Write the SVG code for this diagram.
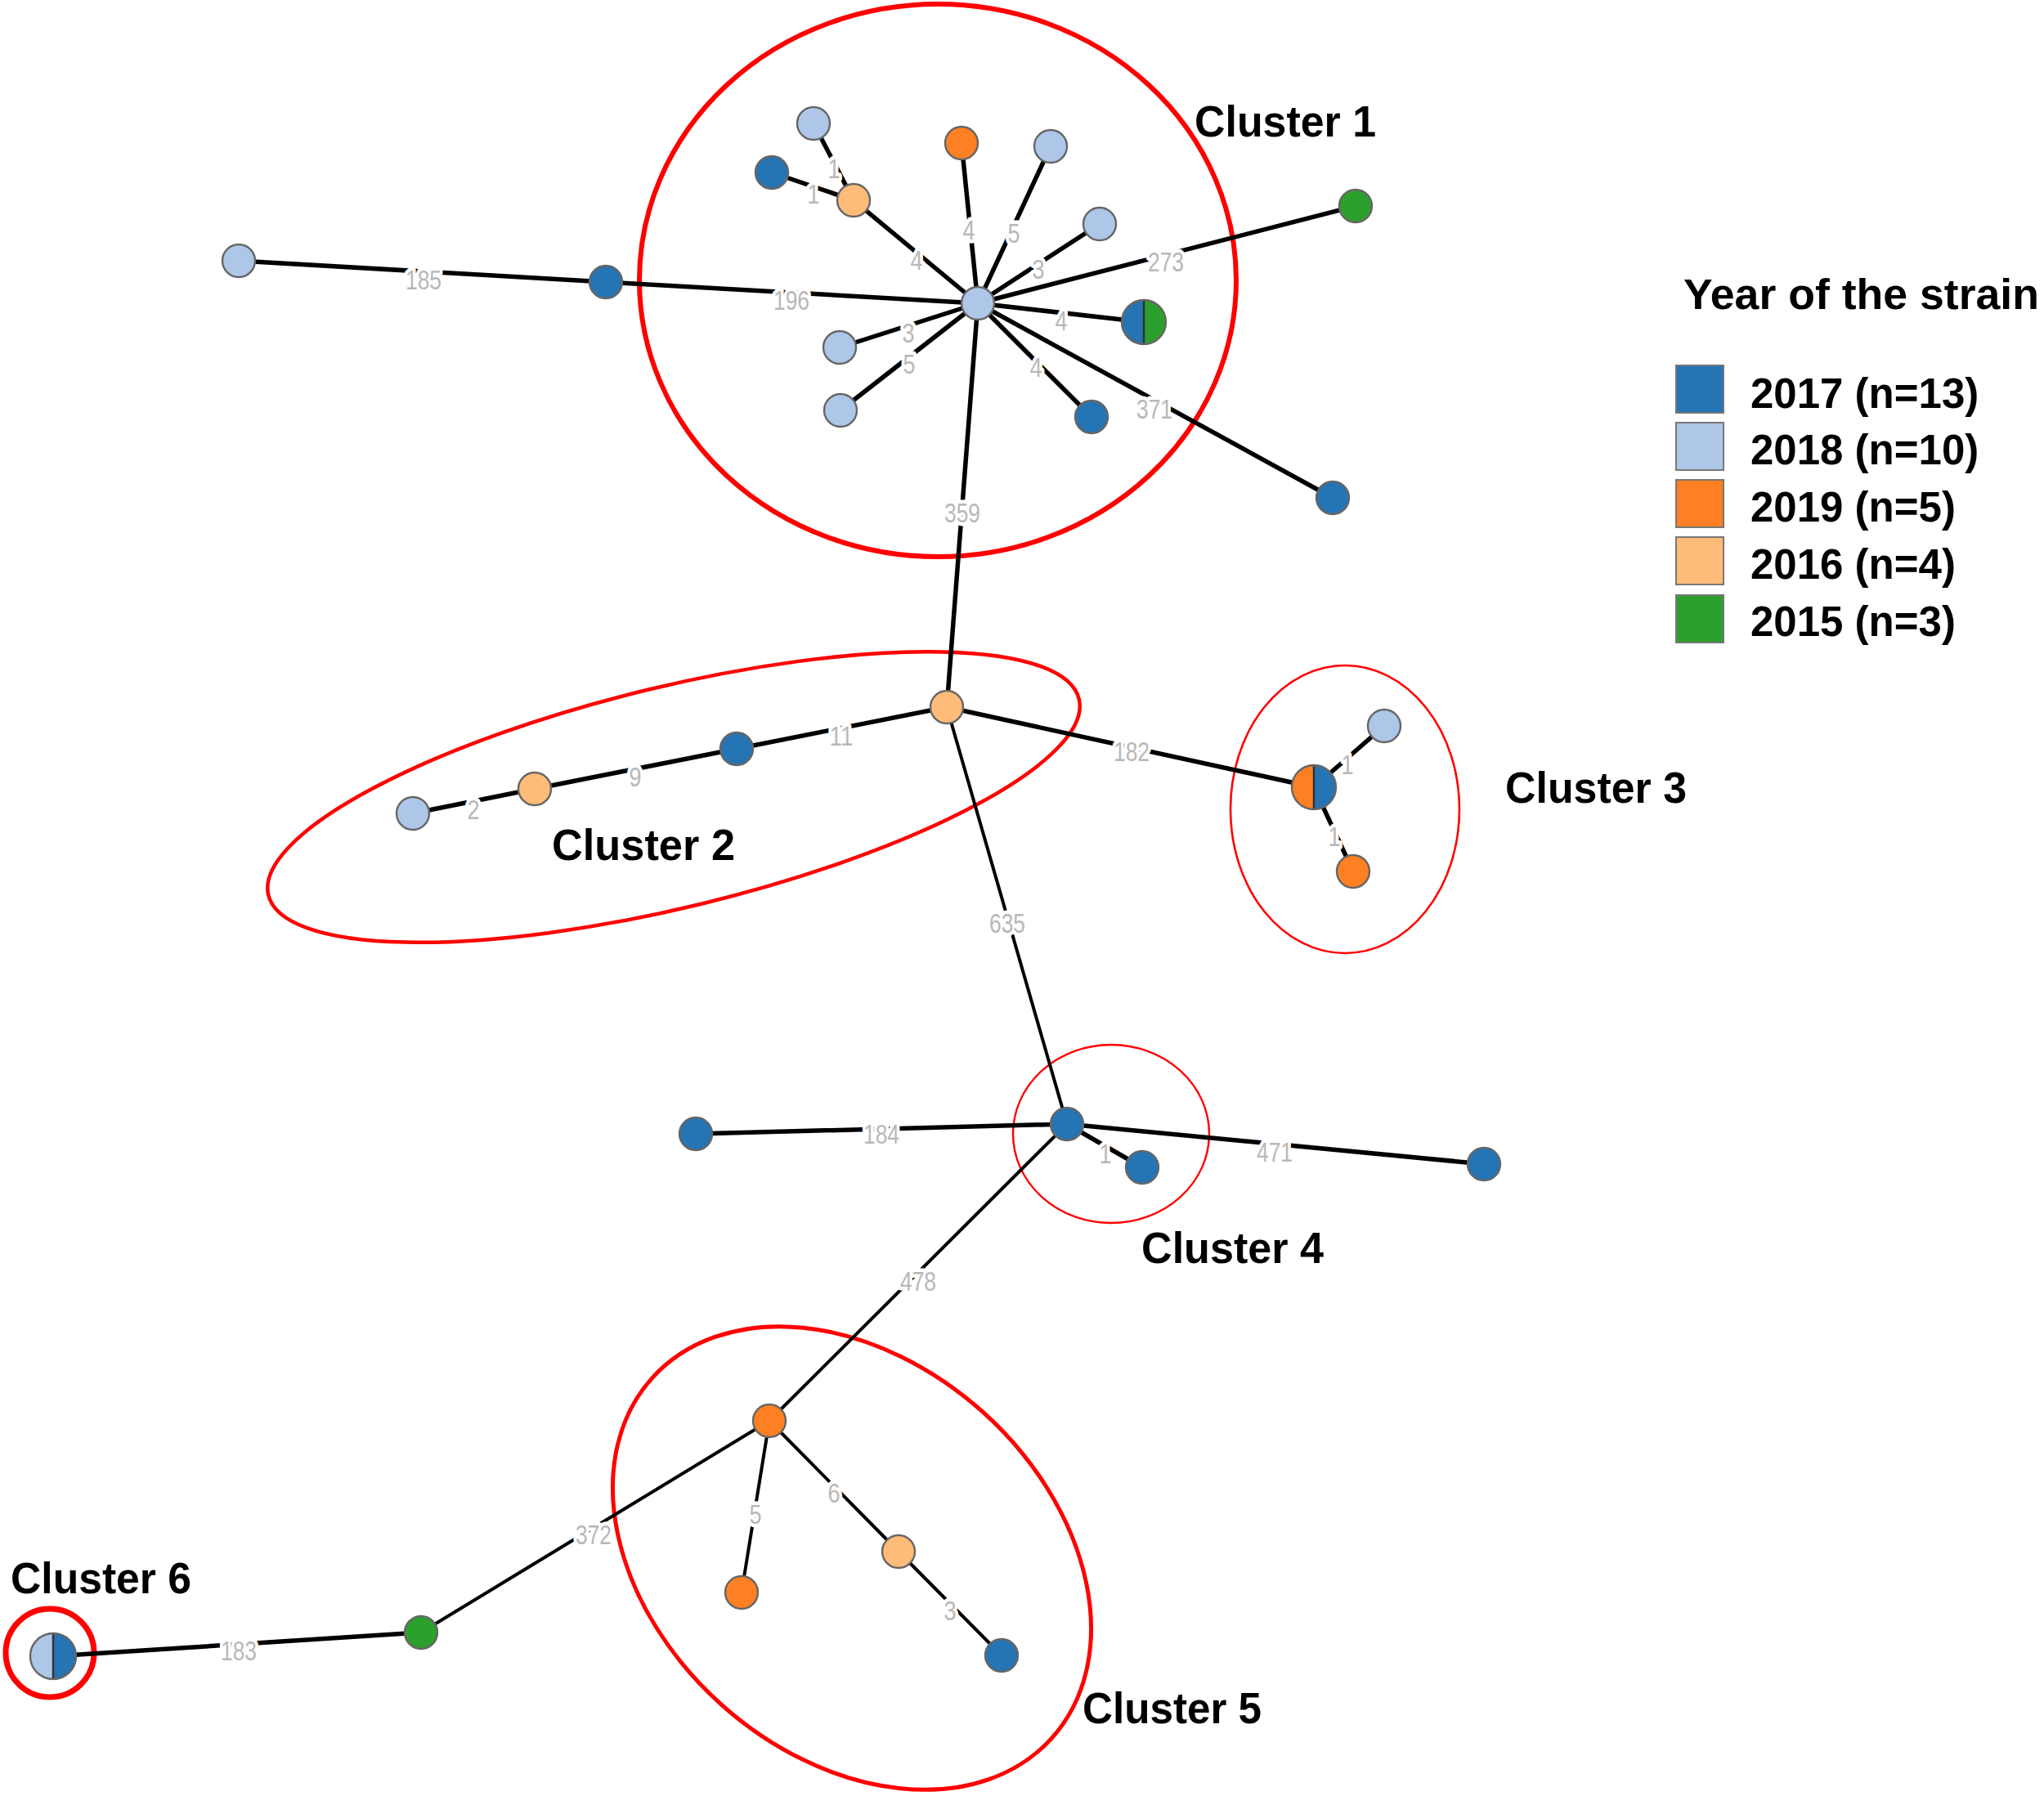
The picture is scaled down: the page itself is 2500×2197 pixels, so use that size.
<svg xmlns="http://www.w3.org/2000/svg" width="2500" height="2197" viewBox="0 0 2500 2197">
<style>
.e{stroke:#000;stroke-width:5.5;stroke-linecap:round;fill:none}
.e.t{stroke-width:4}
.l{font-family:"Liberation Sans",Arial,sans-serif;font-size:33px;fill:#b8b8b8;text-anchor:middle;stroke:#fff;stroke-width:9px;stroke-linejoin:round;paint-order:stroke}
.n{stroke:#666;stroke-width:2.4}
.y17{fill:#2574b4}.y18{fill:#aec7e8}.y19{fill:#ff7f23}.y16{fill:#ffbb78}.y15{fill:#2ca02c}
.cl{fill:none;stroke:#ff0000}
.ct{font-family:"Liberation Sans",Arial,sans-serif;font-weight:bold;font-size:53px;fill:#000}
.lg{font-family:"Liberation Sans",Arial,sans-serif;font-weight:bold;font-size:51px;fill:#000}
.sq{stroke:#777;stroke-width:2}
</style>
<rect width="2500" height="2197" fill="#fff"/>

<g id="cluster-outlines">
<ellipse class="cl" cx="1147" cy="343" rx="365" ry="338" stroke-width="6"/>
<ellipse class="cl" cx="824" cy="975" rx="510" ry="135" transform="rotate(-13.6 824 975)" stroke-width="4.5"/>
<ellipse class="cl" cx="1645" cy="990" rx="140" ry="176" stroke-width="2.6"/>
<ellipse class="cl" cx="1359" cy="1387" rx="120" ry="109" stroke-width="2.4"/>
<ellipse class="cl" cx="1042" cy="1906" rx="329" ry="240" transform="rotate(42 1042 1906)" stroke-width="5"/>
<circle class="cl" cx="61" cy="2022" r="54" stroke-width="7"/>
</g>

<g id="connectors">
<line class="e" x1="1196" y1="371" x2="1044" y2="245"/>
<line class="e" x1="1044" y1="245" x2="995" y2="151"/>
<line class="e" x1="1044" y1="245" x2="944" y2="211"/>
<line class="e" x1="1196" y1="371" x2="1176" y2="175"/>
<line class="e" x1="1196" y1="371" x2="1285" y2="179"/>
<line class="e" x1="1196" y1="371" x2="1345" y2="274"/>
<line class="e" x1="1196" y1="371" x2="1658" y2="252"/>
<line class="e" x1="1196" y1="371" x2="1399" y2="394"/>
<line class="e" x1="1196" y1="371" x2="1630" y2="609"/>
<line class="e" x1="1196" y1="371" x2="1335" y2="510"/>
<line class="e" x1="1196" y1="371" x2="1028" y2="502"/>
<line class="e" x1="1196" y1="371" x2="1027" y2="425"/>
<line class="e" x1="1196" y1="371" x2="741" y2="345"/>
<line class="e" x1="741" y1="345" x2="292" y2="319"/>
<line class="e" x1="1196" y1="371" x2="1158" y2="865"/>
<line class="e" x1="1158" y1="865" x2="901" y2="916"/>
<line class="e" x1="901" y1="916" x2="654" y2="965"/>
<line class="e" x1="654" y1="965" x2="505" y2="995"/>
<line class="e" x1="1158" y1="865" x2="1607" y2="963"/>
<line class="e" x1="1607" y1="963" x2="1693" y2="888"/>
<line class="e" x1="1607" y1="963" x2="1655" y2="1066"/>
<line class="e t" x1="1158" y1="865" x2="1305" y2="1375"/>
<line class="e" x1="1305" y1="1375" x2="851" y2="1387"/>
<line class="e" x1="1305" y1="1375" x2="1397" y2="1428"/>
<line class="e" x1="1305" y1="1375" x2="1815" y2="1424"/>
<line class="e t" x1="1305" y1="1375" x2="941" y2="1738"/>
<line class="e t" x1="941" y1="1738" x2="907" y2="1948"/>
<line class="e t" x1="941" y1="1738" x2="1099" y2="1898"/>
<line class="e t" x1="1099" y1="1898" x2="1225" y2="2025"/>
<line class="e t" x1="941" y1="1738" x2="515" y2="1997"/>
<line class="e" x1="515" y1="1997" x2="65" y2="2026"/>

<text class="l" x="518" y="354" textLength="44" lengthAdjust="spacingAndGlyphs">185</text>
<text class="l" x="968" y="379" textLength="44" lengthAdjust="spacingAndGlyphs">196</text>
<text class="l" x="1121" y="330" textLength="15" lengthAdjust="spacingAndGlyphs">4</text>
<text class="l" x="1185" y="293" textLength="15" lengthAdjust="spacingAndGlyphs">4</text>
<text class="l" x="1240" y="297" textLength="15" lengthAdjust="spacingAndGlyphs">5</text>
<text class="l" x="1270" y="341" textLength="15" lengthAdjust="spacingAndGlyphs">3</text>
<text class="l" x="1426" y="332" textLength="44" lengthAdjust="spacingAndGlyphs">273</text>
<text class="l" x="1298" y="404" textLength="15" lengthAdjust="spacingAndGlyphs">4</text>
<text class="l" x="1412" y="512" textLength="44" lengthAdjust="spacingAndGlyphs">371</text>
<text class="l" x="1267" y="461" textLength="15" lengthAdjust="spacingAndGlyphs">4</text>
<text class="l" x="1111" y="419" textLength="15" lengthAdjust="spacingAndGlyphs">3</text>
<text class="l" x="1112" y="457" textLength="15" lengthAdjust="spacingAndGlyphs">5</text>
<text class="l" x="1020" y="218" textLength="15" lengthAdjust="spacingAndGlyphs">1</text>
<text class="l" x="995" y="249" textLength="15" lengthAdjust="spacingAndGlyphs">1</text>
<text class="l" x="1177" y="639" textLength="44" lengthAdjust="spacingAndGlyphs">359</text>
<text class="l" x="1029" y="912" textLength="29" lengthAdjust="spacingAndGlyphs">11</text>
<text class="l" x="777" y="962" textLength="15" lengthAdjust="spacingAndGlyphs">9</text>
<text class="l" x="579" y="1002" textLength="15" lengthAdjust="spacingAndGlyphs">2</text>
<text class="l" x="1384" y="931" textLength="44" lengthAdjust="spacingAndGlyphs">182</text>
<text class="l" x="1648" y="947" textLength="15" lengthAdjust="spacingAndGlyphs">1</text>
<text class="l" x="1632" y="1035" textLength="15" lengthAdjust="spacingAndGlyphs">1</text>
<text class="l" x="1232" y="1141" textLength="44" lengthAdjust="spacingAndGlyphs">635</text>
<text class="l" x="1078" y="1399" textLength="44" lengthAdjust="spacingAndGlyphs">184</text>
<text class="l" x="1352" y="1423" textLength="15" lengthAdjust="spacingAndGlyphs">1</text>
<text class="l" x="1559" y="1421" textLength="44" lengthAdjust="spacingAndGlyphs">471</text>
<text class="l" x="1123" y="1579" textLength="44" lengthAdjust="spacingAndGlyphs">478</text>
<text class="l" x="924" y="1864" textLength="15" lengthAdjust="spacingAndGlyphs">5</text>
<text class="l" x="1020" y="1838" textLength="15" lengthAdjust="spacingAndGlyphs">6</text>
<text class="l" x="1162" y="1982" textLength="15" lengthAdjust="spacingAndGlyphs">3</text>
<text class="l" x="726" y="1889" textLength="44" lengthAdjust="spacingAndGlyphs">372</text>
<text class="l" x="292" y="2031" textLength="44" lengthAdjust="spacingAndGlyphs">183</text>
</g>

<g id="nodes">
<g id="c1-hub"><circle class="n y18" cx="1196" cy="371" r="20"/></g>
<g id="c1-peach"><circle class="n y16" cx="1044" cy="245" r="20"/></g>
<g id="c1-lb-top"><circle class="n y18" cx="995" cy="151" r="20"/></g>
<g id="c1-db-left"><circle class="n y17" cx="944" cy="211" r="20"/></g>
<g id="c1-orange"><circle class="n y19" cx="1176" cy="175" r="20"/></g>
<g id="c1-lb-2"><circle class="n y18" cx="1285" cy="179" r="20"/></g>
<g id="c1-lb-3"><circle class="n y18" cx="1345" cy="274" r="20"/></g>
<g id="green-273"><circle class="n y15" cx="1658" cy="252" r="20"/></g>
<g id="c1-split">
<path class="y17" d="M1399,367 A27,27 0 0 0 1399,421 Z"/>
<path class="y15" d="M1399,367 A27,27 0 0 1 1399,421 Z"/>
<line x1="1399" y1="367" x2="1399" y2="421" stroke="#333" stroke-width="2.5"/>
<circle cx="1399" cy="394" r="27" fill="none" stroke="#666" stroke-width="2.4"/>
</g>
<g id="db-371"><circle class="n y17" cx="1630" cy="609" r="20"/></g>
<g id="c1-db-4"><circle class="n y17" cx="1335" cy="510" r="20"/></g>
<g id="c1-lb-5"><circle class="n y18" cx="1028" cy="502" r="20"/></g>
<g id="c1-lb-6"><circle class="n y18" cx="1027" cy="425" r="20"/></g>
<g id="db-196"><circle class="n y17" cx="741" cy="345" r="20"/></g>
<g id="lb-185"><circle class="n y18" cx="292" cy="319" r="20"/></g>

<g id="c2-hub"><circle class="n y16" cx="1158" cy="865" r="20"/></g>
<g id="c2-db"><circle class="n y17" cx="901" cy="916" r="20"/></g>
<g id="c2-peach"><circle class="n y16" cx="654" cy="965" r="20"/></g>
<g id="c2-lb"><circle class="n y18" cx="505" cy="995" r="20"/></g>

<g id="c3-split">
<path class="y19" d="M1607,936 A27,27 0 0 0 1607,990 Z"/>
<path class="y17" d="M1607,936 A27,27 0 0 1 1607,990 Z"/>
<line x1="1607" y1="936" x2="1607" y2="990" stroke="#333" stroke-width="2.5"/>
<circle cx="1607" cy="963" r="27" fill="none" stroke="#666" stroke-width="2.4"/>
</g>
<g id="c3-lb"><circle class="n y18" cx="1693" cy="888" r="20"/></g>
<g id="c3-orange"><circle class="n y19" cx="1655" cy="1066" r="20"/></g>

<g id="c4-hub"><circle class="n y17" cx="1305" cy="1375" r="20"/></g>
<g id="db-184"><circle class="n y17" cx="851" cy="1387" r="20"/></g>
<g id="c4-db"><circle class="n y17" cx="1397" cy="1428" r="20"/></g>
<g id="db-471"><circle class="n y17" cx="1815" cy="1424" r="20"/></g>

<g id="c5-hub"><circle class="n y19" cx="941" cy="1738" r="20"/></g>
<g id="c5-orange"><circle class="n y19" cx="907" cy="1948" r="20"/></g>
<g id="c5-peach"><circle class="n y16" cx="1099" cy="1898" r="20"/></g>
<g id="c5-db"><circle class="n y17" cx="1225" cy="2025" r="20"/></g>
<g id="green-372"><circle class="n y15" cx="515" cy="1997" r="20"/></g>

<g id="c6-split">
<path class="y18" d="M65,1998 A28,28 0 0 0 65,2054 Z"/>
<path class="y17" d="M65,1998 A28,28 0 0 1 65,2054 Z"/>
<line x1="65" y1="1998" x2="65" y2="2054" stroke="#333" stroke-width="2.5"/>
<circle cx="65" cy="2026" r="28" fill="none" stroke="#666" stroke-width="2.4"/>
</g>
</g>

<g id="cluster-labels">
<text class="ct" x="1461" y="167" textLength="222" lengthAdjust="spacingAndGlyphs">Cluster 1</text>
<text class="ct" x="675" y="1052" textLength="224" lengthAdjust="spacingAndGlyphs">Cluster 2</text>
<text class="ct" x="1841" y="982" textLength="222" lengthAdjust="spacingAndGlyphs">Cluster 3</text>
<text class="ct" x="1396" y="1545" textLength="223" lengthAdjust="spacingAndGlyphs">Cluster 4</text>
<text class="ct" x="1324" y="2108" textLength="219" lengthAdjust="spacingAndGlyphs">Cluster 5</text>
<text class="ct" x="13" y="1949" textLength="221" lengthAdjust="spacingAndGlyphs">Cluster 6</text>
</g>

<g id="legend">
<text class="lg" x="2059" y="378" font-size="53" textLength="435" lengthAdjust="spacingAndGlyphs">Year of the strain</text>
<rect class="sq y17" x="2050" y="447" width="58" height="58"/>
<rect class="sq y18" x="2050" y="517" width="58" height="58"/>
<rect class="sq y19" x="2050" y="587" width="58" height="58"/>
<rect class="sq y16" x="2050" y="657" width="58" height="58"/>
<rect class="sq y15" x="2050" y="728" width="58" height="58"/>
<text class="lg" x="2141" y="499">2017 (n=13)</text>
<text class="lg" x="2141" y="568">2018 (n=10)</text>
<text class="lg" x="2141" y="638">2019 (n=5)</text>
<text class="lg" x="2141" y="708">2016 (n=4)</text>
<text class="lg" x="2141" y="778">2015 (n=3)</text>
</g>
</svg>
